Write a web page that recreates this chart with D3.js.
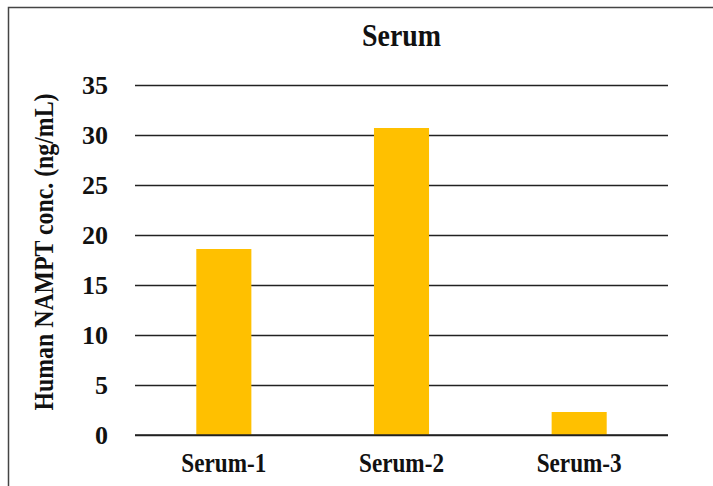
<!DOCTYPE html>
<html>
<head>
<meta charset="utf-8">
<script src="https://cdn.jsdelivr.net/npm/d3@7"></script>
<style>
  body { margin: 0; background: #fff; }
  svg text { font-family: "Liberation Serif", "Times New Roman", serif !important; font-weight: bold; fill: #111; }
</style>
</head>
<body>
<svg id="chart" width="713" height="486"></svg>
<script>
"use strict"

const categories = ["Serum-1", "Serum-2", "Serum-3"]
const values = [18.6, 30.7, 2.3]
const yTicks = [0, 5, 10, 15, 20, 25, 30, 35]
const title = "Serum"
const yLabel = "Human NAMPT conc. (ng/mL)"

const svg = d3.select("#chart")
const margin = {top: 85, right: 45, bottom: 51, left: 135}
const width = 713 - margin.left - margin.right,
    height = 486 - margin.top - margin.bottom

// outer frame, cut off on the right and bottom like the source
svg.append("rect")
    .attr("x", 8.5).attr("y", 7.5)
    .attr("width", 760).attr("height", 520)
    .attr("fill", "none")
    .attr("stroke", "#444")
    .attr("stroke-width", 1.5)

const g = svg.append("g")
    .attr("transform", "translate(" + margin.left + "," + margin.top + ")")

let x = d3.scaleBand()
    .domain(categories)
    .range([0, width])
    .paddingInner(0.69)
    .paddingOuter(0.345)

let y = d3.scaleLinear()
    .domain([0, 35])
    .range([height, 0])

// horizontal grid lines
g.append("g")
    .call(d3.axisLeft(y).tickValues(yTicks).tickSize(-width).tickFormat(""))
    .call(a => a.select(".domain").remove())
    .selectAll("line")
    .attr("stroke", "#222")
    .attr("stroke-width", 1.5)

// tick labels
g.append("g")
    .call(d3.axisLeft(y).tickValues(yTicks).tickSize(0).tickPadding(27))
    .call(a => a.select(".domain").remove())
    .selectAll("text")
    .attr("font-size", 26)
    .attr("fill", "#111")

// bars
g.selectAll(".bar")
    .data(values)
    .enter().append("rect")
    .attr("class", "bar")
    .attr("x", (d, i) => x(categories[i]))
    .attr("width", x.bandwidth())
    .attr("y", d => y(d))
    .attr("height", d => height - y(d))
    .attr("fill", "#FFC000")

// re-draw baseline over the bars
g.append("line")
    .attr("x1", 0).attr("x2", width)
    .attr("y1", y(0)).attr("y2", y(0))
    .attr("stroke", "#222")
    .attr("stroke-width", 1.5)

// category labels (condensed serif like the source)
g.append("g")
    .attr("transform", "translate(0," + height + ")")
    .call(d3.axisBottom(x).tickSize(0).tickPadding(17))
    .call(a => a.select(".domain").remove())
    .selectAll("text")
    .attr("font-size", 28)
    .attr("textLength", 85)
    .attr("lengthAdjust", "spacingAndGlyphs")
    .attr("fill", "#111")

// title
svg.append("text")
    .attr("x", margin.left + width / 2)
    .attr("y", 46)
    .attr("text-anchor", "middle")
    .attr("font-size", 31)
    .attr("textLength", 79)
    .attr("lengthAdjust", "spacingAndGlyphs")
    .text(title)

// y axis label
svg.append("text")
    .attr("transform", "translate(53," + 252 + ") rotate(-90)")
    .attr("text-anchor", "middle")
    .attr("font-size", 27)
    .attr("textLength", 317)
    .attr("lengthAdjust", "spacingAndGlyphs")
    .text(yLabel)
</script>
</body>
</html>
